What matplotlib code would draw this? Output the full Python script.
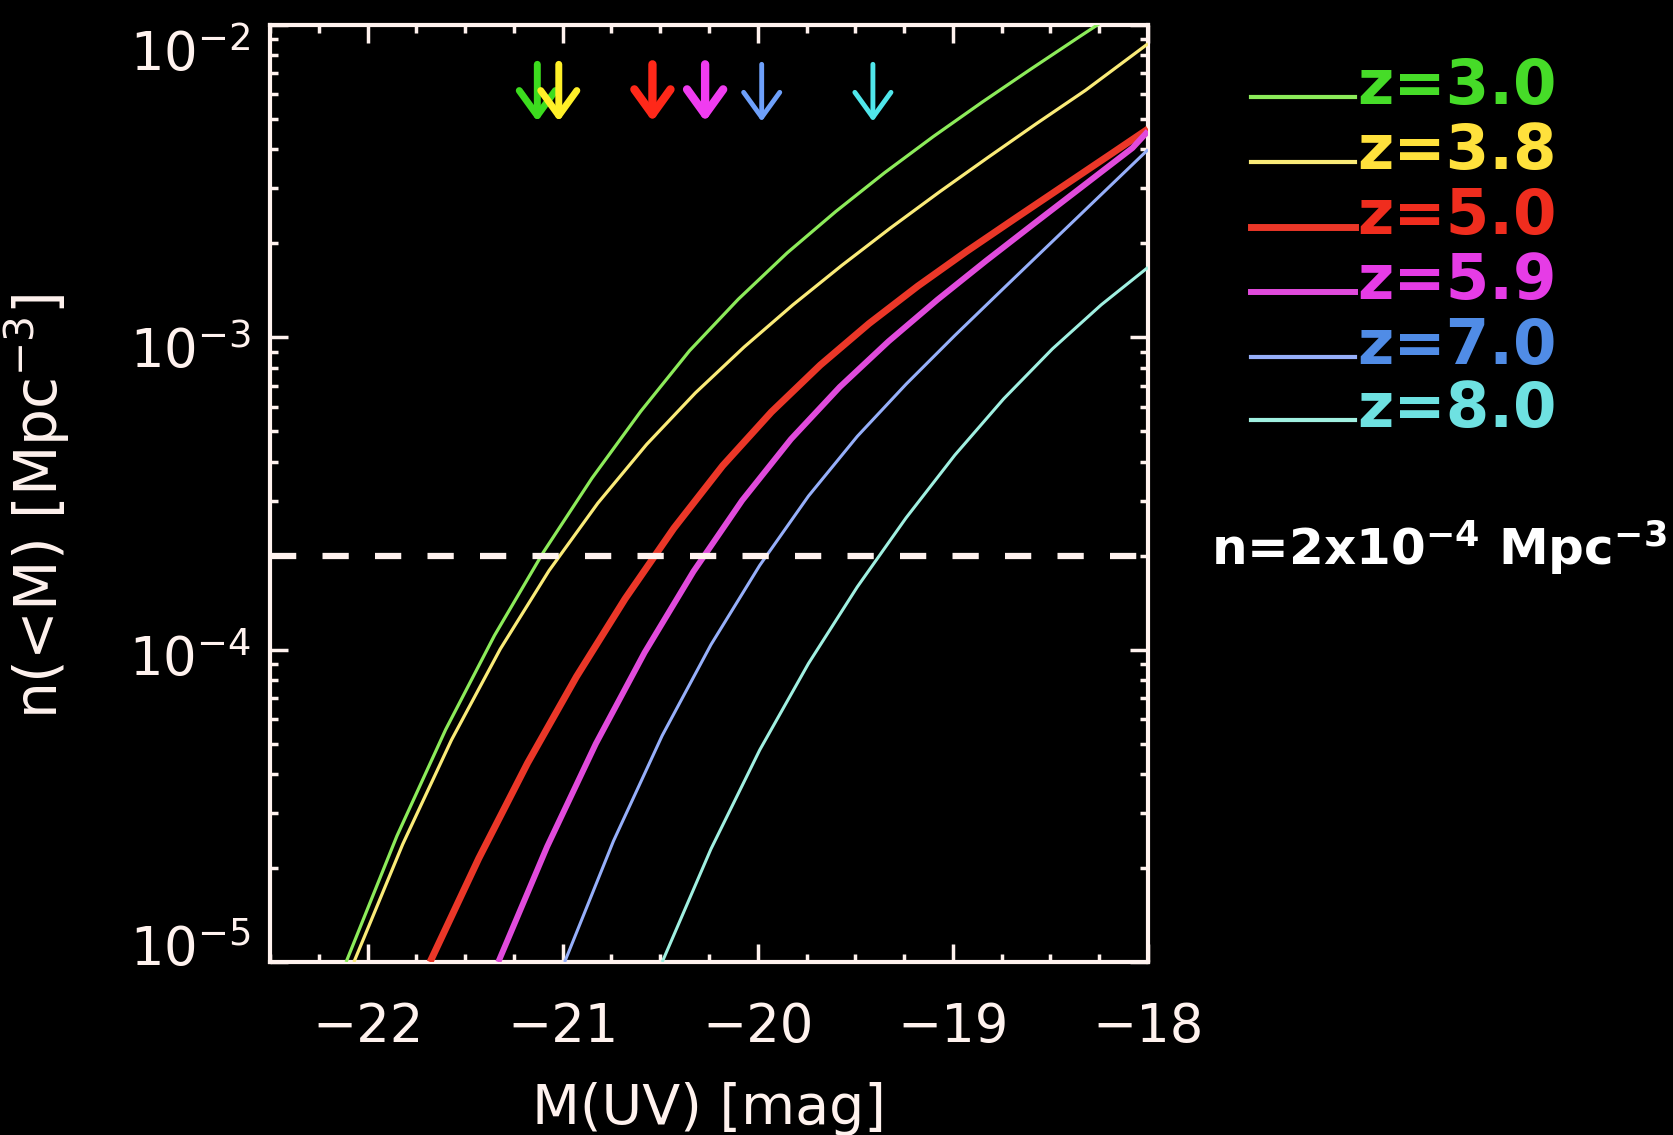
"""
Cumulative UV luminosity functions n(<M) for z = 3.0 ... 8.0.

Values are read off the reference figure; arrows mark where each curve
crosses the n = 2x10^-4 Mpc^-3 level (dashed line).
"""

import matplotlib
matplotlib.use("Agg")
import matplotlib.pyplot as plt
from matplotlib.lines import Line2D
from matplotlib.ticker import MultipleLocator, LogLocator, NullFormatter, FixedLocator
import numpy as np

# --- DATA ---
REDSHIFTS = ["z=3.0", "z=3.8", "z=5.0", "z=5.9", "z=7.0", "z=8.0"]

M_Z30 = [-22.11, -21.85, -21.60, -21.35, -21.10, -20.85, -20.60, -20.35, -20.10,
         -19.85, -19.60, -19.35, -19.10, -18.85, -18.60, -18.35, -18.25]
LOGN_Z30 = [-5.000, -4.597, -4.256, -3.955, -3.689, -3.451, -3.237, -3.043, -2.878,
            -2.730, -2.597, -2.473, -2.357, -2.247, -2.141, -2.037, -1.996]

M_Z38 = [-22.07, -21.82, -21.57, -21.32, -21.07, -20.82, -20.57, -20.32, -20.07,
         -19.82, -19.57, -19.32, -19.07, -18.82, -18.57, -18.32, -18.00]
LOGN_Z38 = [-5.000, -4.623, -4.289, -3.998, -3.747, -3.531, -3.343, -3.178, -3.031,
            -2.896, -2.770, -2.650, -2.535, -2.424, -2.315, -2.209, -2.060]

M_Z50 = [-21.68, -21.43, -21.18, -20.93, -20.68, -20.43, -20.18, -19.93,
         -19.68, -19.43, -19.18, -18.93, -18.68, -18.43, -18.18, -18.00]
LOGN_Z50 = [-5.000, -4.668, -4.363, -4.087, -3.837, -3.611, -3.411, -3.239,
            -3.089, -2.956, -2.836, -2.725, -2.619, -2.514, -2.409, -2.333]

M_Z59 = [-21.33, -21.08, -20.83, -20.58, -20.33, -20.08, -19.83, -19.58,
         -19.33, -19.08, -18.83, -18.58, -18.33, -18.08, -18.00]
LOGN_Z59 = [-5.000, -4.631, -4.301, -4.009, -3.750, -3.522, -3.326, -3.159,
            -3.013, -2.880, -2.755, -2.634, -2.514, -2.394, -2.340]

M_Z70 = [-20.99, -20.74, -20.49, -20.24, -19.99, -19.74, -19.49, -19.24,
         -18.99, -18.74, -18.49, -18.24, -18.00]
LOGN_Z70 = [-5.000, -4.613, -4.275, -3.984, -3.730, -3.508, -3.317, -3.150,
            -2.994, -2.843, -2.693, -2.543, -2.399]

M_Z80 = [-20.49, -20.24, -19.99, -19.74, -19.49, -19.24, -18.99, -18.74,
         -18.49, -18.24, -18.00]
LOGN_Z80 = [-5.000, -4.638, -4.321, -4.044, -3.799, -3.578, -3.377, -3.197,
            -3.037, -2.896, -2.776]

# magnitude where each curve reaches n = 2e-4 (arrow positions)
M_CROSS = [-21.13, -21.02, -20.54, -20.27, -19.98, -19.41]
N_THRESH = 2e-4

Y_TICKS = [1e-5, 1e-4, 1e-3, 1e-2]
Y_TICK_LABELS = [r'$10^{-5}$', r'$10^{-4}$', r'$10^{-3}$', r'$10^{-2}$']

# --- STYLE ---
LINE_COLORS = ["#8CEB5A", "#FAEB78", "#EB3728", "#E14BDC", "#96AFFA", "#A0F0E1"]
ARROW_COLORS = ["#3CDC1E", "#FFF028", "#FF2819", "#F03CF0", "#6EA0FA", "#50E6EB"]
TEXT_COLORS = ["#46DC28", "#FFE13C", "#F02D1E", "#E63CE6", "#508CE6", "#6EE1E1"]
LINE_WIDTHS = [2.3, 2.3, 5.0, 4.3, 2.2, 2.2]
ARROW_WIDTHS = [5.0, 5.0, 6.0, 6.0, 3.5, 3.5]
AXIS_COLOR = "#FFF2EE"
# vertical nudge (points) of each y tick label, as placed in the original
Y_LABEL_NUDGE = [12, -4, -7, -18]

curves = [(M_Z30, LOGN_Z30), (M_Z38, LOGN_Z38), (M_Z50, LOGN_Z50),
          (M_Z59, LOGN_Z59), (M_Z70, LOGN_Z70), (M_Z80, LOGN_Z80)]

plt.rcParams['font.family'] = ['DejaVu Sans']

fig = plt.figure(figsize=(16.73, 11.35), dpi=100, facecolor='black')
ax = fig.add_axes([0.1614, 0.1524, 0.5248, 0.8256])
ax.set_facecolor('black')

# dashed threshold line
ax.axhline(N_THRESH, color=AXIS_COLOR, lw=4.5, dashes=(4.2, 4.2), zorder=4)

for (m, logn), c, lw in zip(curves, LINE_COLORS, LINE_WIDTHS):
    ax.plot(m, 10 ** np.array(logn), color=c, lw=lw, solid_capstyle='butt',
            solid_joinstyle='round', zorder=3)

# arrows at the top
for mc, c, lw in zip(M_CROSS, ARROW_COLORS, ARROW_WIDTHS):
    ax.annotate('', xy=(mc, 0.897), xytext=(mc, 0.958),
                xycoords=('data', 'axes fraction'), textcoords=('data', 'axes fraction'),
                arrowprops=dict(arrowstyle='->,head_length=0.9,head_width=0.65',
                                color=c, lw=lw, shrinkA=0, shrinkB=0,
                                mutation_scale=20))

ax.set_yscale('log')
ax.set_xlim(-22.5, -18)
ax.set_ylim(1e-5, 1e-2)

ax.xaxis.set_major_locator(MultipleLocator(1))
ax.xaxis.set_minor_locator(MultipleLocator(0.25))
ax.yaxis.set_major_locator(FixedLocator(Y_TICKS))
ax.yaxis.set_minor_locator(LogLocator(base=10, subs=np.arange(2, 10)))
ax.yaxis.set_minor_formatter(NullFormatter())

for side in ax.spines.values():
    side.set_color(AXIS_COLOR)
    side.set_linewidth(3)

ax.tick_params(which='both', direction='in', top=True, right=True,
               color=AXIS_COLOR, labelcolor=AXIS_COLOR, width=2.5)
ax.tick_params(which='major', length=13)
ax.tick_params(which='minor', length=6)
ax.tick_params(axis='x', which='major', labelsize=38, pad=28)
ax.tick_params(axis='y', labelleft=False)

# y tick labels placed by hand (IDL shifts them off the tick a little)
for v, lab, dy in zip(Y_TICKS, Y_TICK_LABELS, Y_LABEL_NUDGE):
    ax.annotate(lab, xy=(0, v), xycoords=('axes fraction', 'data'),
                xytext=(-14, dy), textcoords='offset points',
                ha='right', va='center_baseline', fontsize=38, color=AXIS_COLOR)

ax.set_xlabel('M(UV) [mag]', fontsize=40, color=AXIS_COLOR)
ax.set_ylabel('n(<M) [Mpc$^{-3}$]', fontsize=42, color=AXIS_COLOR)
ax.xaxis.set_label_coords(0.5, -0.128)
ax.yaxis.set_label_coords(-0.226, 0.486)

# legend drawn by hand, IDL style: short line then coloured label
row_y = [97, 162, 227, 292, 357, 420]
for name, lc, tc, lw, y in zip(REDSHIFTS, LINE_COLORS, TEXT_COLORS, LINE_WIDTHS, row_y):
    yf = 1 - y / 1135
    fig.add_artist(Line2D([0.748, 0.810], [yf, yf], color=lc, lw=max(lw, 3.0),
                          transform=fig.transFigure))
    fig.text(0.811, yf + 0.009, name, color=tc, fontsize=45, fontweight='bold',
             ha='left', va='center')

fig.text(0.724, 1 - 565 / 1135, r'n=2x10$^{\mathbf{-4}}$ Mpc$^{\mathbf{-3}}$',
         color='white', fontsize=36, fontweight='bold', ha='left', va='baseline')

fig.savefig('out.png', dpi=100, facecolor='black')
